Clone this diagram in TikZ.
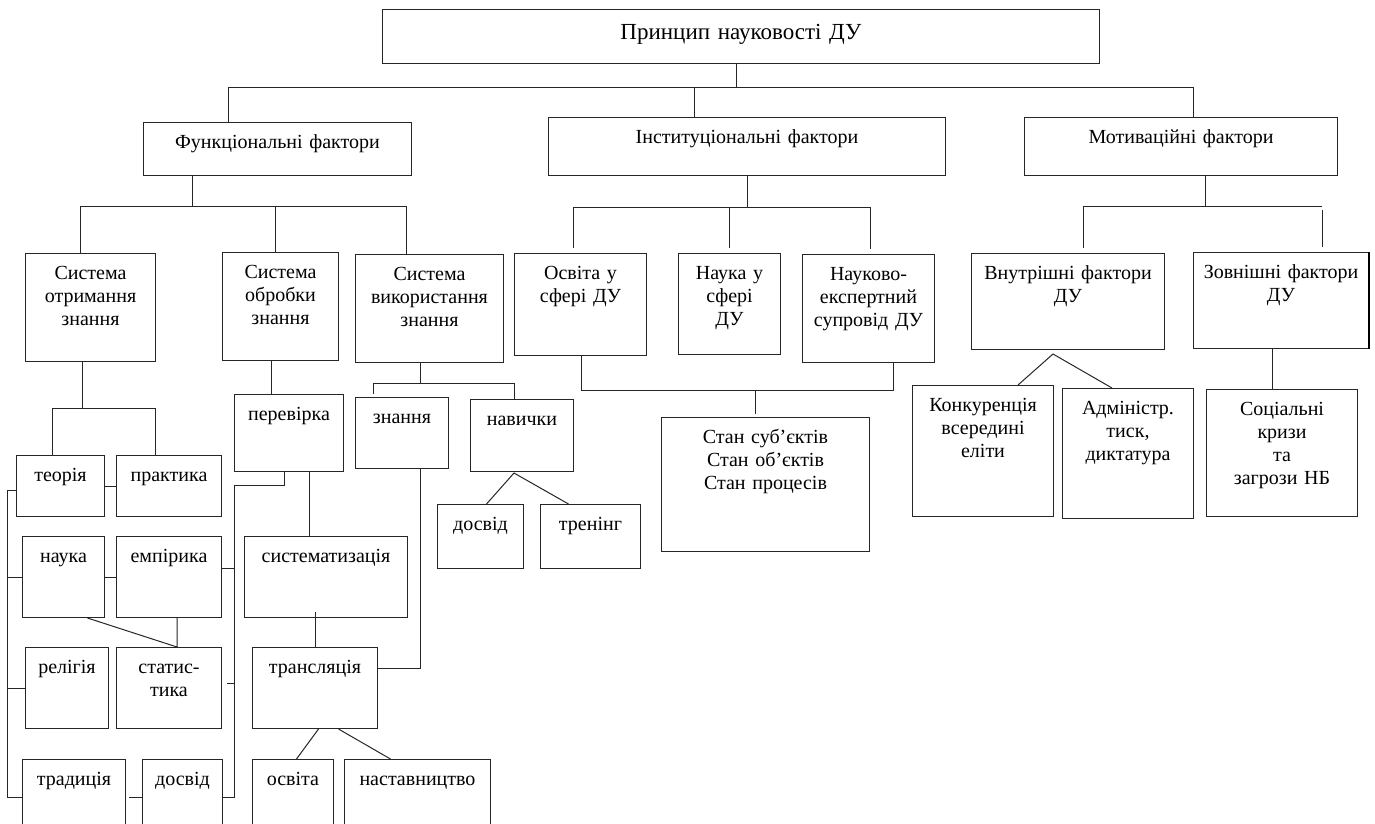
\documentclass[tikz,border=0pt]{standalone}
\usepackage{fontspec}
\setmainfont{Liberation Serif}
\tikzset{
  box/.style 2 args={draw=black!85, line width=1pt, anchor=north west, inner sep=0pt,
    minimum width=#1pt, minimum height=#2pt},
  boxtxt/.style={anchor=north, yshift=-12pt, inner sep=0pt, align=center, text width=240pt,
    text height=14pt, font=\fontsize{20}{23}\selectfont},
  wire/.style={draw=black!85, line width=1pt}
}
\begin{document}
\begin{tikzpicture}[x=1pt, y=-1pt]
\useasboundingbox (0,0) rectangle (1375,823);
\clip (0,0) rectangle (1375,823);
% top levels
\node[box={717}{54}, label={[boxtxt, yshift=-4pt, text width=500pt, font=\fontsize{23}{26}\selectfont]90:{Принцип науковості ДУ}}] (pr) at (382,9) {};
\node[box={268}{53}, label={[boxtxt]90:{Функціональні фактори}}] (func) at (143,122) {};
\node[box={397}{58}, label={[boxtxt]90:{Інституціональні фактори}}] (inst) at (548,117) {};
\node[box={313}{58}, label={[boxtxt]90:{Мотиваційні фактори}}] (motiv) at (1024,117) {};
% second level
\node[box={130}{108}, label={[boxtxt]90:{Система\\отримання\\знання}}] (soz) at (25,253) {};
\node[box={116}{108}, label={[boxtxt]90:{Система\\обробки\\знання}}] (sobz) at (222,252) {};
\node[box={148}{108}, label={[boxtxt]90:{Система\\використання\\знання}}] (svz) at (355,254) {};
\node[box={132}{102}, label={[boxtxt]90:{Освіта у\\сфері ДУ}}] (osv) at (514,253) {};
\node[box={102}{101}, label={[boxtxt]90:{Наука у\\сфері\\ДУ}}] (nauka) at (678,253) {};
\node[box={132}{108}, label={[boxtxt]90:{Науково-\\експертний\\супровід ДУ}}] (nexp) at (802,254) {};
\node[box={193}{96}, label={[boxtxt]90:{Внутрішні фактори\\ДУ}}] (vnut) at (971,253) {};
\node[box={175}{96}, label={[boxtxt]90:{Зовнішні фактори\\ДУ}}] (zovn) at (1193,252) {};
\draw[line width=2pt] (zovn.north east) -- (zovn.south east);
% knowledge gathering
\node[box={88}{61}, label={[boxtxt]90:{теорія}}] (teor) at (16,455) {};
\node[box={105}{61}, label={[boxtxt]90:{практика}}] (prakt) at (116,455) {};
\node[box={82}{81}, label={[boxtxt]90:{наука}}] (nauk) at (22,536) {};
\node[box={105}{81}, label={[boxtxt]90:{емпірика}}] (emp) at (116,536) {};
\node[box={83}{81}, label={[boxtxt]90:{релігія}}] (rel) at (25,647) {};
\node[box={105}{81}, label={[boxtxt]90:{статис-\\тика}}] (stat) at (116,647) {};
\node[box={103}{80}, label={[boxtxt]90:{традиція}}] (trad) at (22,759) {};
\node[box={80}{80}, label={[boxtxt]90:{досвід}}] (dosv) at (142,759) {};
% knowledge processing
\node[box={109}{77}, label={[boxtxt]90:{перевірка}}] (perev) at (234,394) {};
\node[box={163}{81}, label={[boxtxt]90:{систематизація}}] (sist) at (244,536) {};
\node[box={125}{81}, label={[boxtxt]90:{трансляція}}] (trans) at (252,647) {};
\node[box={81}{80}, label={[boxtxt]90:{освіта}}] (osvita) at (252,759) {};
\node[box={146}{80}, label={[boxtxt]90:{наставництво}}] (nast) at (344,759) {};
% knowledge use
\node[box={93}{71}, label={[boxtxt]90:{знання}}] (znan) at (355,397) {};
\node[box={103}{72}, label={[boxtxt]90:{навички}}] (navy) at (470,399) {};
\node[box={86}{64}, label={[boxtxt]90:{досвід}}] (dosv2) at (437,504) {};
\node[box={100}{64}, label={[boxtxt]90:{тренінг}}] (tren) at (540,504) {};
% institutional and motivational leaves
\node[box={208}{134}, label={[boxtxt]90:{Стан суб’єктів\\Стан об’єктів\\Стан процесів}}] (stan) at (661,417) {};
\node[box={141}{131}, label={[boxtxt]90:{Конкуренція\\всередині\\еліти}}] (konk) at (912,385) {};
\node[box={131}{130}, label={[boxtxt]90:{Адміністр.\\тиск,\\диктатура}}] (admin) at (1062,388) {};
\node[box={151}{127}, label={[boxtxt]90:{Соціальні\\кризи\\та\\загрози НБ}}] (soc) at (1206,389) {};

% bus under the title
\coordinate (t0) at (736,87);
\coordinate (tL) at (228,87);
\coordinate (tM) at (694,87);
\coordinate (tR) at (1193,87);
\draw[wire] (t0 |- pr.south) -- (t0);
\draw[wire] (tL) -- (tR);
\foreach \c/\n in {tL/func, tM/inst, tR/motiv}
  \draw[wire] (\c) -- (\c |- \n.north);
% functional
\coordinate (f0) at (192,206);
\coordinate (fL) at (80,206);
\coordinate (fM) at (275,206);
\coordinate (fR) at (406,206);
\draw[wire] (f0 |- func.south) -- (f0);
\draw[wire] (fL) -- (fR);
\foreach \c/\n in {fL/soz, fM/sobz, fR/svz}
  \draw[wire] (\c) -- (\c |- \n.north);
% institutional
\coordinate (i0) at (747,207);
\coordinate (iL) at (573,207);
\coordinate (iM) at (729,207);
\coordinate (iR) at (870,207);
\draw[wire] (i0 |- inst.south) -- (i0);
\draw[wire] (iL) -- (iR);
\foreach \c/\n in {iL/osv, iM/nauka, iR/nexp}
  \draw[wire, shorten >=5pt] (\c) -- (\c |- \n.north);
\coordinate (oL) at (581,390);
\coordinate (oM) at (755,390);
\coordinate (oR) at (893,390);
\draw[wire] (oL |- osv.south) -- (oL) -- (oR) -- (oR |- nexp.south);
\draw[wire, shorten >=3pt] (oM) -- (oM |- stan.north);
% motivational
\coordinate (m0) at (1205,206);
\coordinate (mL) at (1083,206);
\coordinate (mR) at (1322,206);
\draw[wire] (m0 |- motiv.south) -- (m0);
\draw[wire] (mL) -- (mR);
\draw[wire, shorten >=5pt] (mL) -- (mL |- vnut.north);
\draw[wire, shorten >=5pt, shorten <=4pt] (mR) -- (mR |- zovn.north);
\coordinate (vA) at (1053,354);
\draw[wire] ([xshift=35pt]konk.north) -- (vA) -- ([xshift=-16pt]admin.north);
\coordinate (zA) at (1272,0);
\draw[wire] (zA |- zovn.south) -- (zA |- soc.north);
% gathering
\coordinate (s0) at (82,408);
\coordinate (sL) at (52,408);
\coordinate (sR) at (155,408);
\draw[wire] (s0 |- soz.south) -- (s0);
\draw[wire] (sL |- teor.north) |- (sR) -- (sR |- prakt.north);
\draw[wire] (teor) -- (prakt);
\draw[wire] (nauk) -- (emp);
\coordinate (stT) at (177,647);
\draw[wire] ([xshift=24pt]nauk.south) -- (stT) -- (stT |- emp.south);
\coordinate (lT) at (7,490);
\coordinate (lB) at (7,797);
\draw[wire] (teor.west |- lT) -- (lT) -- (lB) -- (trad.west |- lB);
\draw[wire] (nauk.west) -- (nauk.west -| lT);
\draw[wire] (rel.west) -- (rel.west -| lT);
\draw[wire, shorten <=3pt] (trad.east |- lB) -- (dosv.west |- lB);
% processing
\coordinate (rT) at (234,485);
\coordinate (rE) at (234,568);
\coordinate (rS) at (234,683);
\coordinate (rB) at (234,797);
\draw[wire] ([xshift=-4.5pt]perev.south) |- (rT) -- (rB) -- (dosv.east |- rB);
\draw[wire] (emp.east |- rE) -- (rE);
\draw[wire] ([xshift=-7pt]rS) -- (rS);
\coordinate (p0) at (271,0);
\coordinate (p1) at (309,0);
\draw[wire] (p0 |- sobz.south) -- (p0 |- perev.north);
\draw[wire] (p1 |- perev.south) -- (p1 |- sist.north);
\draw[wire, shorten >=-6pt] (trans.north) -- (trans.north |- sist.south);
\draw[wire] ([xshift=3.5pt]trans.south) -- ([xshift=3.5pt]osvita.north);
\draw[wire] ([xshift=23.5pt]trans.south) -- ([xshift=-27pt]nast.north);
% use
\coordinate (v0) at (420,383);
\coordinate (vL) at (373,383);
\coordinate (vR) at (514,383);
\draw[wire] (v0 |- svz.south) -- (v0);
\draw[wire, shorten <=3pt] (vL |- znan.north) |- (vR) -- (vR |- navy.north);
\coordinate (k0) at (420,668);
\draw[wire] (k0 |- znan.south) -- (k0) -- (trans.east |- k0);
\coordinate (nA) at (514,473);
\draw[wire] ([xshift=6pt]dosv2.north) -- (nA) -- ([xshift=-22pt]tren.north);
\end{tikzpicture}
\end{document}
